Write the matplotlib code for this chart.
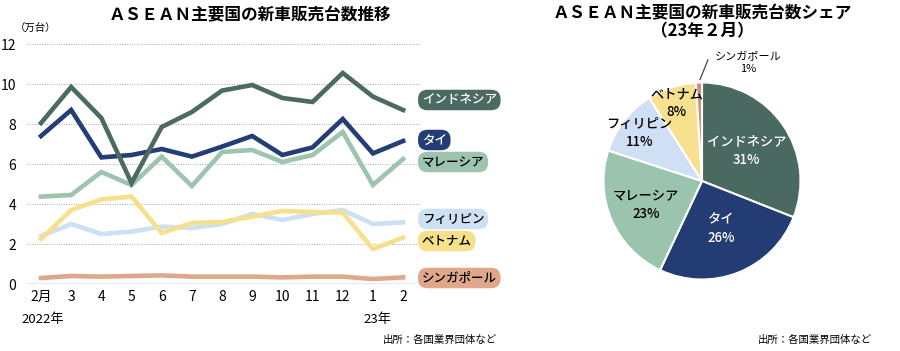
import matplotlib
matplotlib.use('Agg')
import matplotlib.pyplot as plt
import numpy as np

plt.rcParams['font.family'] = ['Noto Sans CJK JP', 'DejaVu Sans']

months = ['2月', '3', '4', '5', '6', '7', '8', '9', '10', '11', '12', '1', '2']

indonesia = [8.05, 9.85, 8.3, 5.05, 7.85, 8.6, 9.67, 9.95, 9.3, 9.1, 10.55, 9.37, 8.7]
thailand = [7.4, 8.7, 6.33, 6.45, 6.75, 6.37, 6.87, 7.4, 6.45, 6.83, 8.25, 6.53, 7.15]
malaysia = [4.37, 4.45, 5.6, 4.95, 6.37, 4.9, 6.6, 6.7, 6.1, 6.45, 7.6, 4.95, 6.25]
philippines = [2.4, 3.0, 2.5, 2.62, 2.87, 2.8, 3.0, 3.5, 3.2, 3.5, 3.7, 3.0, 3.08]
vietnam = [2.25, 3.7, 4.23, 4.37, 2.55, 3.05, 3.1, 3.37, 3.65, 3.6, 3.57, 1.75, 2.32]
singapore = [0.3, 0.4, 0.37, 0.4, 0.43, 0.37, 0.37, 0.37, 0.33, 0.37, 0.37, 0.25, 0.33]

share_names = ['インドネシア', 'タイ', 'マレーシア', 'フィリピン', 'ベトナム', 'シンガポール']
share_pct = [31, 26, 23, 11, 8, 1]

c_ind = '#4b6a62'
c_tha = '#243d74'
c_mal = '#9cc4ae'
c_phi = '#cde0f4'
c_vie = '#f6e08c'
c_sin = '#e0a78a'

fig = plt.figure(figsize=(9, 3.51), dpi=100)

# ---- line chart
ax = fig.add_axes([27/900, 67/351, (420-27)/900, (284-44)/351])
x = np.arange(len(months))
series = [(singapore, c_sin, 'シンガポール', 'black', 0.3),
          (philippines, c_phi, 'フィリピン', 'black', 3.25),
          (vietnam, c_vie, 'ベトナム', 'black', 2.15),
          (malaysia, c_mal, 'マレーシア', 'black', 6.1),
          (thailand, c_tha, 'タイ', 'white', 7.2),
          (indonesia, c_ind, 'インドネシア', 'white', 9.2)]
for vals, col, name, tc, ly in series:
    ax.plot(x, vals, color=col, lw=3.3, solid_joinstyle='miter', zorder=3)
    ax.text(12.62, ly, name, color=tc, fontsize=9, va='center', ha='left',
            fontweight='medium', clip_on=False, zorder=5,
            bbox=dict(boxstyle='round,pad=0.3,rounding_size=0.75', fc=col, ec='none'))

ax.set_ylim(0, 12)
ax.set_xlim(-0.464, 12.56)
ax.set_yticks(range(0, 13, 2))
for v in range(2, 13, 2):
    ax.axhline(v, color='#aaaaaa', lw=0.7, ls=(0, (1, 1.5)), zorder=1)
ax.axhline(0, color='#555555', lw=0.9, zorder=2)
ax.set_xticks(x)
ax.set_xticklabels(months, fontsize=10)
ax.tick_params(length=0, labelsize=10, pad=4)
ax.tick_params(axis='y', pad=8)
for s in ax.spines.values():
    s.set_visible(False)
ax.text(0.05, -0.146, '2022年', transform=ax.get_xaxis_transform(), ha='center', va='center', fontsize=9.5)
ax.text(11.15, -0.146, '23年', transform=ax.get_xaxis_transform(), ha='center', va='center', fontsize=9.5)

fig.text(250/900, 1 - 15/351, 'ＡＳＥＡＮ主要国の新車販売台数推移', ha='center', va='center',
         fontsize=12, fontweight='bold')
fig.text(15/900, 1 - 29/351, '（万台）', ha='left', va='center', fontsize=7.5)
fig.text(497/900, 1 - 340/351, '出所：各国業界団体など', ha='right', va='center', fontsize=7.5)

# ---- pie chart
r = 98.5
pax = fig.add_axes([(702-r)/900, (351-181-r)/351, 2*r/900, 2*r/351])
pcols = ['#4a6961', '#233c73', '#9bc4ae', '#cfe0f4', '#f7e18f', '#d98a78']
wedges, _ = pax.pie(share_pct, colors=pcols, startangle=90, counterclock=False,
                    wedgeprops=dict(edgecolor='white', linewidth=1.5))
pax.set_xlim(-1, 1)
pax.set_ylim(-1, 1)
pax.set_aspect('auto')

label_r = [0.55, 0.52, 0.62, 0.8, 0.83]
tcols = ['white', 'white', 'black', 'black', 'black']
cum = 0
for i, p in enumerate(share_pct):
    mid = 90 - (cum + p / 2) * 3.6
    cum += p
    if i >= len(label_r):
        continue
    th = np.radians(mid)
    lx, ly = label_r[i] * np.cos(th), label_r[i] * np.sin(th)
    pax.text(lx, ly, f'{share_names[i]}\n{p}%', ha='center', va='center', color=tcols[i],
             fontsize=9.5, fontweight='medium', linespacing=1.4)

# Singapore outside label
pax.plot([-0.02, 0.06], [1.03, 1.23], color='#333333', lw=0.8, clip_on=False)
pax.text(0.47, 1.2, f'{share_names[5]}\n{share_pct[5]}%', ha='center', va='center',
         fontsize=8, linespacing=1.3, clip_on=False)

fig.text(702/900, 1 - 13/351, 'ＡＳＥＡＮ主要国の新車販売台数シェア', ha='center', va='center',
         fontsize=12, fontweight='bold')
fig.text(702/900, 1 - 31/351, '（23年２月）', ha='center', va='center',
         fontsize=12, fontweight='bold')
fig.text(872/900, 1 - 340/351, '出所：各国業界団体など', ha='right', va='center', fontsize=7.5)

fig.savefig('out.png', dpi=100)
